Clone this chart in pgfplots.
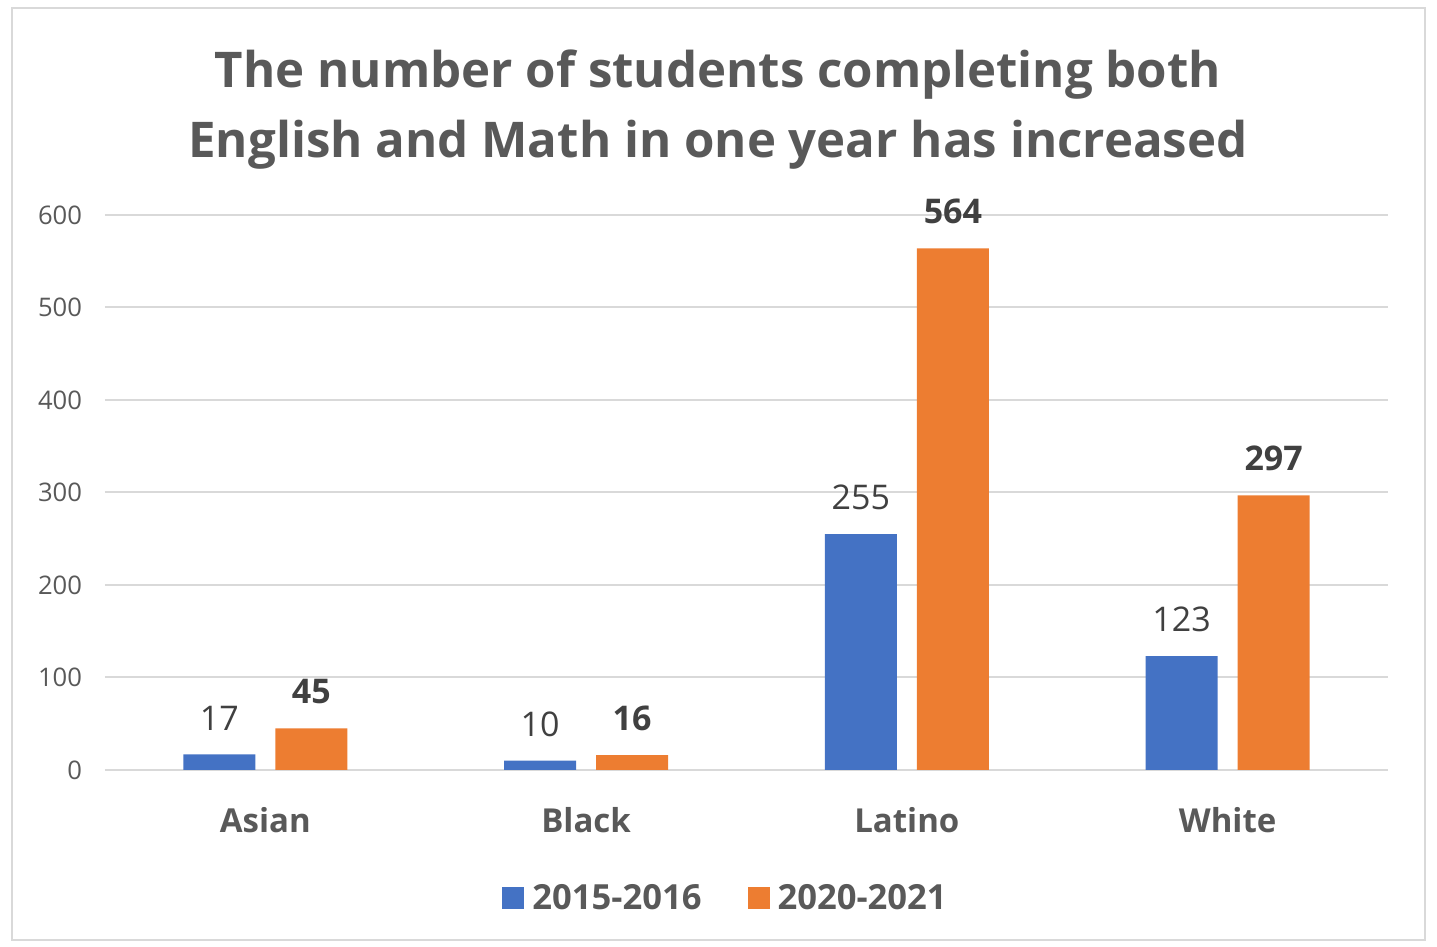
\documentclass[border=0pt]{standalone}
\usepackage{fontspec}
\setmainfont{Open Sans}
\usepackage{pgfplots}
\pgfplotsset{compat=1.18}
\definecolor{cblue}{HTML}{4472C4}
\definecolor{corange}{HTML}{ED7D31}
\definecolor{tgray}{HTML}{595959}
\definecolor{dgray}{HTML}{404040}
\definecolor{gridc}{HTML}{D9D9D9}
\begin{document}
\begin{tikzpicture}
\path[use as bounding box] (-52.5pt,-88.5pt) rectangle (666pt,385pt);
\draw[gridc, line width=1pt] (-46.5pt,-85pt) rectangle (660pt,381pt);
\begin{axis}[
	scale only axis,
	width=641.5pt, height=277.5pt,
	at={(0,0)}, anchor=south west,
	ybar, bar width=36pt,
	xmin=-0.5, xmax=3.5,
	ymin=0, ymax=600,
	xtick=data,
	xticklabels={Asian, Black, Latino, White},
	ytick={0,100,...,600},
	axis line style={draw=none},
	xmajorgrids=false,
	ymajorgrids=true,
	grid style={draw=gridc, line width=1pt},
	major tick length=0pt,
	tick label style={font=\fontsize{12.8}{14}\selectfont, text=tgray},
	/pgf/number format/assume math mode=true,
	xticklabel style={font=\fontsize{16.5}{18}\selectfont\bfseries, text=tgray, yshift=-15pt},
	yticklabel style={xshift=-8pt},
	legend style={draw=none, at={(0.486,-0.231)}, anchor=center,
		font=\fontsize{17.3}{19}\selectfont\bfseries, text=tgray,
		legend columns=2, column sep=0pt,
		/tikz/every even column/.append style={column sep=19pt},
		nodes={inner xsep=4pt}},
	legend image code/.code={\fill[#1] (0pt,-5.5pt) rectangle (11pt,5.5pt);},
	nodes near coords,
	every node near coord/.append style={anchor=south, yshift=8.5pt},
]
\addplot[fill=cblue, draw=none, bar shift=-23pt,
	every node near coord/.append style={font=\fontsize{17}{19}\selectfont, text=dgray}]
	coordinates {(0,17) (1,10) (2,255) (3,123)};
\addplot[fill=corange, draw=none, bar shift=23pt,
	every node near coord/.append style={font=\fontsize{17}{19}\selectfont\bfseries, text=dgray}]
	coordinates {(0,45) (1,16) (2,564) (3,297)};
\legend{2015-2016, 2020-2021}
\end{axis}
\node[text=tgray, font=\fontsize{24.6}{35}\selectfont\bfseries, align=center] at (306.5pt,330pt)
	{The number of students completing both\\English and Math in one year has increased};
\end{tikzpicture}
\end{document}
